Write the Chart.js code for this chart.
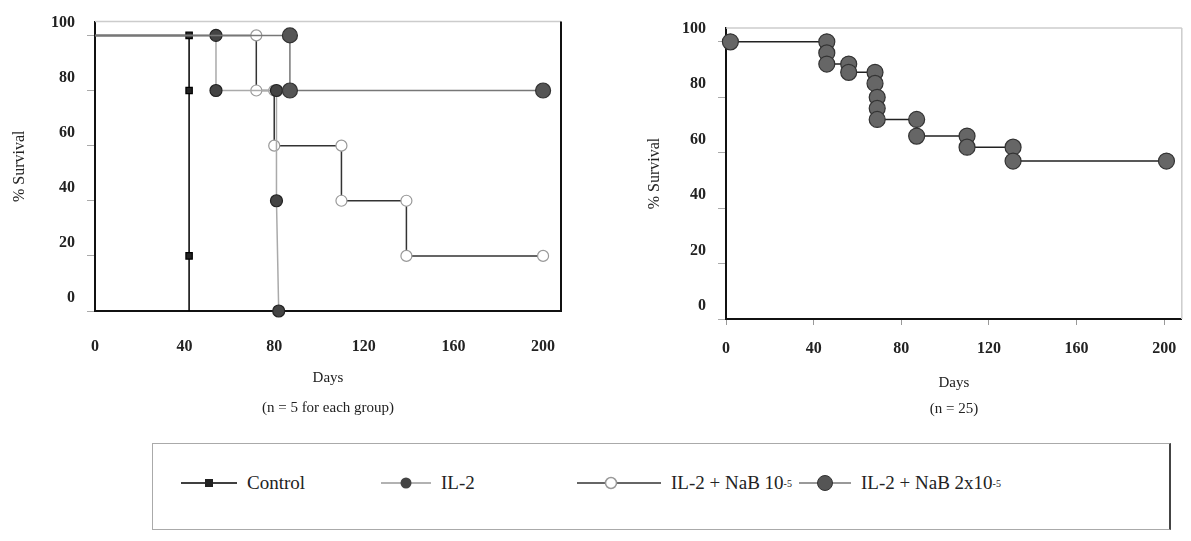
<!DOCTYPE html>
<html>
<head>
<meta charset="utf-8">
<script src="https://cdn.jsdelivr.net/npm/chart.js@4.4.0/dist/chart.umd.min.js"></script>
<style>
  body { margin: 0; background: #fff; width: 1191px; height: 541px; position: relative; overflow: hidden; font-family: 'Liberation Serif', serif; }
  #leftBox { position: absolute; left: 0; top: 0; width: 600px; height: 430px; }
  #rightBox { position: absolute; left: 600px; top: 0; width: 591px; height: 430px; }
  #legend { position: absolute; left: 152px; top: 443px; width: 1016px; height: 85px;
            border: 1px solid #aaa; border-right: 2px solid #444; color: #222; font-size: 19px; }
  .item { position: absolute; top: 28px; display: flex; align-items: center; white-space: nowrap; }
  .item svg { margin-right: 10px; }
  sup { font-size: 10px; }
</style>
</head>
<body>
<div id="leftBox"><canvas id="survA"></canvas></div>
<div id="rightBox"><canvas id="survB"></canvas></div>
<div id="legend">
  <div class="item" style="left:28px"><svg width="56" height="14"><line x1="0" y1="7" x2="56" y2="7" stroke="#000" stroke-width="1.5"/><rect x="24" y="3" width="8" height="8" fill="#222"/></svg>Control</div>
  <div class="item" style="left:228px"><svg width="50" height="14"><line x1="0" y1="7" x2="50" y2="7" stroke="#999" stroke-width="1.5"/><circle cx="25" cy="7" r="5.5" fill="#444"/></svg>IL-2</div>
  <div class="item" style="left:424px"><svg width="84" height="16"><line x1="0" y1="8" x2="84" y2="8" stroke="#333" stroke-width="1.5"/><circle cx="34" cy="8" r="5.5" fill="#fff" stroke="#999" stroke-width="1.5"/></svg>IL-2 + NaB 10<sup>-5</sup></div>
  <div class="item" style="left:646px"><svg width="52" height="18"><line x1="0" y1="9" x2="52" y2="9" stroke="#777" stroke-width="1.5"/><circle cx="26" cy="9" r="7.5" fill="#555" stroke="#333"/></svg>IL-2 + NaB 2x10<sup>-5</sup></div>
</div>
<script>
// tick values
const xTicks = [0, 40, 80, 120, 160, 200];
const yTicks = [0, 20, 40, 60, 80, 100];

// left panel, n = 5 per group
const controlDays = [0, 42, 42, 42, 42];
const controlSurv = [100, 100, 80, 20, 0];
const il2Days = [0, 54, 54, 81, 81, 82];
const il2Surv = [100, 100, 80, 80, 40, 0];
const nab1Days = [0, 72, 72, 80, 80, 110, 110, 139, 139, 200];
const nab1Surv = [100, 100, 80, 80, 60, 60, 40, 40, 20, 20];
const nab2Days = [0, 87, 87, 200];
const nab2Surv = [100, 100, 80, 80];

// right panel, n = 25
const allDays = [2, 46, 46, 46, 56, 56, 68, 68, 69, 69, 69, 87, 87, 110, 110, 131, 131, 201];
const allSurv = [100, 100, 96, 92, 92, 89, 89, 85, 80, 76, 72, 72, 66, 66, 62, 62, 57, 57];

const pts = (xs, ys) => xs.map((d, i) => ({ x: d, y: ys[i] }));
const tickFont = { family: 'Liberation Serif', size: 16, weight: 'bold' };

// top / right frame lines of the plot box
const frame = {
  id: 'frame',
  afterDraw(chart, args, opts) {
    const { ctx, chartArea: a } = chart;
    ctx.save();
    ctx.lineWidth = 1.5;
    ctx.strokeStyle = opts.top;
    ctx.beginPath(); ctx.moveTo(a.left, a.top); ctx.lineTo(a.right, a.top); ctx.stroke();
    ctx.strokeStyle = opts.right;
    ctx.lineWidth = opts.rightWidth;
    ctx.beginPath(); ctx.moveTo(a.right, a.top); ctx.lineTo(a.right, a.bottom); ctx.stroke();
    ctx.restore();
  }
};

function scales(cfg) {
  return {
    x: {
      type: 'linear', min: 0, max: 208,
      afterBuildTicks: s => { s.ticks = xTicks.map(v => ({ value: v })); },
      afterFit: s => { s.height = cfg.xHeight; },
      grid: { display: cfg.xTickMarks, drawOnChartArea: false, tickLength: 6, color: '#999' },
      border: { display: true, color: '#111', width: 2 },
      ticks: { font: tickFont, color: '#222', padding: cfg.xPad, maxRotation: 0 },
      title: { display: true, text: cfg.xTitle, color: '#222',
               font: { family: 'Liberation Serif', size: 15, lineHeight: cfg.titleLH },
               padding: { top: 0, bottom: cfg.titlePad } }
    },
    y: {
      min: 0, max: 105,
      afterBuildTicks: s => { s.ticks = yTicks.map(v => ({ value: v })); },
      afterFit: s => { s.width = cfg.yWidth; },
      grid: { display: true, drawOnChartArea: false, tickLength: 8, color: '#aaa' },
      border: { display: true, color: '#111', width: 2 },
      ticks: { font: tickFont, color: '#222', padding: 12, labelOffset: -13 },
      title: { display: true, text: '% Survival', color: '#222',
               font: { family: 'Liberation Serif', size: 16 },
               padding: { top: cfg.yTitlePad, bottom: 0 } }
    }
  };
}

function series(label, data, line, fill, border, style, r, hideFirst, hideLast) {
  return {
    label, data, borderColor: line, borderWidth: 1.5,
    pointBackgroundColor: fill, pointBorderColor: border, pointBorderWidth: 1.2,
    pointStyle: style,
    pointRadius: ctx => ((hideFirst && ctx.dataIndex === 0) || (hideLast && ctx.dataIndex === data.length - 1)) ? 0 : r,
    tension: 0, clip: false
  };
}

new Chart(document.getElementById('survA'), {
  type: 'line',
  data: {
    datasets: [
      series('IL-2 + NaB 2x10-5', pts(nab2Days, nab2Surv), '#777', '#555', '#333', 'circle', 7.5, true, false),
      series('IL-2', pts(il2Days, il2Surv), '#aaa', '#444', '#222', 'circle', 6, true, false),
      series('IL-2 + NaB 10-5', pts(nab1Days, nab1Surv), '#333', '#fff', '#999', 'circle', 5.5, true, false),
      series('Control', pts(controlDays, controlSurv), '#000', '#222', '#000', 'rect', 4.5, true, true)
    ]
  },
  options: {
    responsive: true, maintainAspectRatio: false, animation: false,
    layout: { padding: { left: 0, top: 18, right: 39, bottom: 0 } },
    plugins: { legend: { display: false }, tooltip: { enabled: false },
               frame: { top: '#ccc', right: '#111', rightWidth: 2 } },
    scales: scales({ xHeight: 119, xPad: 20, xTickMarks: false, yWidth: 95, yTitlePad: 10,
                     xTitle: ['Days', '(n = 5 for each group)'], titleLH: 2, titlePad: 7 })
  },
  plugins: [frame]
});

new Chart(document.getElementById('survB'), {
  type: 'line',
  data: {
    datasets: [
      series('All', pts(allDays, allSurv), '#222', '#666', '#333', 'circle', 8, false, false)
    ]
  },
  options: {
    responsive: true, maintainAspectRatio: false, animation: false,
    layout: { padding: { left: 0, top: 28, right: 1, bottom: 0 } },
    plugins: { legend: { display: false }, tooltip: { enabled: false },
               frame: { top: '#ccc', right: '#ccc', rightWidth: 1.5 } },
    scales: scales({ xHeight: 111, xPad: 14, xTickMarks: true, yWidth: 126, yTitlePad: 45,
                     xTitle: ['Days', '(n = 25)'], titleLH: 1.75, titlePad: 8 })
  },
  plugins: [frame]
});
</script>
</body>
</html>
